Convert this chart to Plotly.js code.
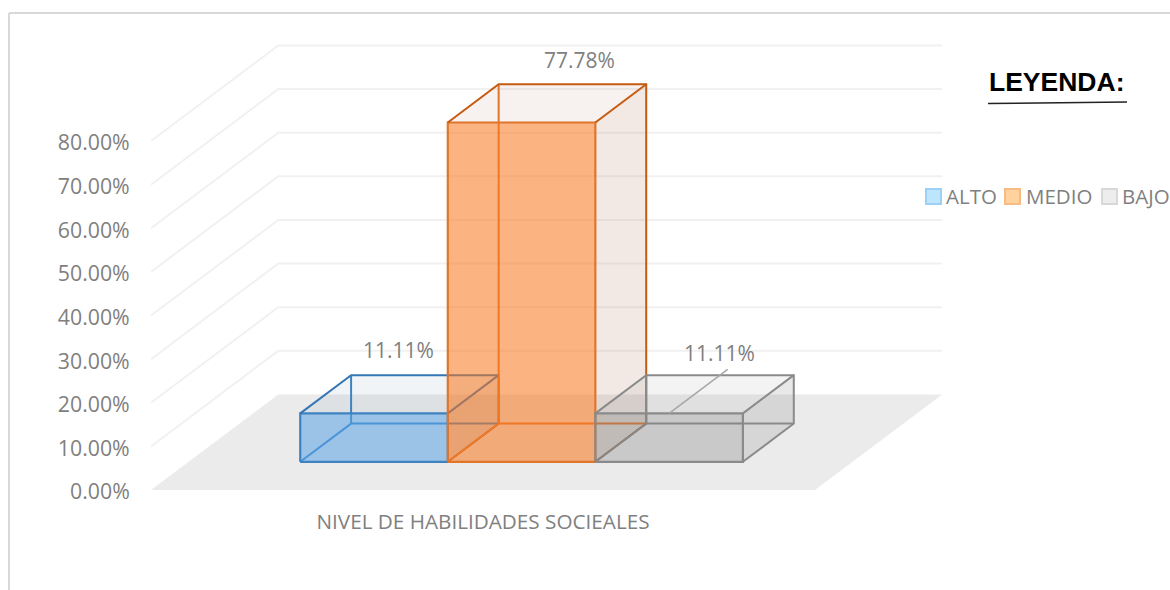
<!DOCTYPE html>
<html>
<head>
<meta charset="utf-8">
<script src="https://cdn.plot.ly/plotly-3.0.1.min.js"></script>
<style>html,body{margin:0;padding:0;background:#fff;overflow:hidden}#chart{width:1170px;height:590px}</style>
</head>
<body>
<div id="chart"></div>
<script>
// ---- data ----
const seriesNames = ['ALTO', 'MEDIO', 'BAJO'];
const seriesValues = [11.11, 77.78, 11.11];
const valueLabels = ['11.11%', '77.78%', '11.11%'];
const categoryLabel = ['NIVEL DE HABILIDADES SOCIEALES'];
const yTicks = [0, 10, 20, 30, 40, 50, 60, 70, 80];

// ---- styles ----
const FONT = 'Open Sans, sans-serif';
const GREY = '#808080';
const faceColors  = ['rgba(88,165,236,0.50)', 'rgba(255,120,28,0.52)', 'rgba(125,125,125,0.23)'];
const hullColors  = ['rgba(60,110,140,0.075)', 'rgba(150,85,45,0.075)', 'rgba(127,127,127,0.09)'];
const sideColors  = ['rgba(60,110,140,0.03)', 'rgba(150,85,45,0.05)', 'rgba(127,127,127,0.09)'];
const wireColors  = ['#3F82C2', '#E0752B', '#8A8A8A'];
const swatchFill  = ['#BDE5FD', '#FFD29E', '#EDEDED'];
const swatchLine  = ['#9CD0F5', '#F9BB84', '#D8D8D8'];

// ---- pseudo-3D scene, in axis units (x: one bar width, y: percent) ----
const FLOOR_W = 4.5, GAP = 0.757, SKEW_X = 0.862, SKEW_Y = 21.9;
const D0 = 0.295, D1 = 0.695;
const PX_X = 147.56, PX_Y = 4.3625, L = 151, B = 490;
const px = (u, d) => u + d * SKEW_X;           // x projected with depth d
const py = (v, d) => v + d * SKEW_Y;           // y projected with depth d

const traces = [];
function poly(xs, ys, fill, name) {
  traces.push({type:'scatter', mode:'lines', x:xs, y:ys, fill:'toself', fillcolor:fill,
    line:{width:0}, hoverinfo:'skip', showlegend:false, name:name});
}
function wire(segs, color, width, name) {
  const xs = [], ys = [];
  segs.forEach(s => { s.forEach(p => { xs.push(p[0]); ys.push(p[1]); }); xs.push(null); ys.push(null); });
  traces.push({type:'scatter', mode:'lines', x:xs, y:ys, line:{color:color, width:width},
    hoverinfo:'skip', showlegend:false, name:name});
}

// floor
poly([px(0,0), px(FLOOR_W,0), px(FLOOR_W,1), px(0,1), px(0,0)],
     [py(0,0), py(0,0), py(0,1), py(0,1), py(0,0)], '#EBEBEB', 'floor');

// gridlines
wire(yTicks.filter(v => v > 0).map(v => [[px(0,0), py(v,0)], [px(0,1), py(v,1)], [px(FLOOR_W,1), py(v,1)]]),
     '#F1F1F1', 2, 'grid');

// bars as transparent boxes
seriesValues.forEach((v, i) => {
  const a = GAP + i, b = a + 1;
  const P = (u, val, d) => [px(u, d), py(val, d)];
  const hull = [P(a,v,D0), P(a,v,D1), P(b,v,D1), P(b,0,D1), P(b,0,D0), P(a,0,D0), P(a,v,D0)];
  poly(hull.map(p => p[0]), hull.map(p => p[1]), hullColors[i], seriesNames[i]);
  const side = [P(b,v,D0), P(b,v,D1), P(b,0,D1), P(b,0,D0), P(b,v,D0)];
  poly(side.map(p => p[0]), side.map(p => p[1]), sideColors[i], seriesNames[i]);
  wire([
    [P(a,0,D1), P(b,0,D1)],
    [P(a,v,D1), P(a,0,D1)],
    [P(a,0,D0), P(a,0,D1)]
  ], wireColors[i], 2, seriesNames[i]);
  const front = [P(a,0,D0), P(b,0,D0), P(b,v,D0), P(a,v,D0), P(a,0,D0)];
  traces.push({type:'scatter', mode:'lines', x:front.map(p=>p[0]), y:front.map(p=>p[1]),
    fill:'toself', fillcolor:faceColors[i], line:{color:wireColors[i], width:2.2},
    name:seriesNames[i], showlegend:false, hovertemplate:seriesNames[i]+': '+valueLabels[i]+'<extra></extra>'});
  wire([
    [P(a,v,D0), P(a,v,D1), P(b,v,D1), P(b,0,D1), P(b,0,D0)],
    [P(b,v,D0), P(b,v,D1)]
  ], i === 1 ? '#C55A11' : (i === 0 ? '#3577B5' : wireColors[i]), 2, seriesNames[i]);
});

// leader line of the last label
const li = seriesValues.length - 1, lc = GAP + li + 0.5;
wire([[[px(lc, D0), py(seriesValues[li], D0)], [px(lc, D1 + 0.06), py(seriesValues[li], D1 + 0.06)]]],
     '#A6A6A6', 1.5, 'leader');

// ---- page-pixel helpers for non-data furniture ----
const plotW = 1170 - L, plotH = B;
const X = p => (p - L) / plotW;
const Y = p => (B - p) / plotH;

const labelShift = [[-1, 44], [32, 43], [25, 41]];
const annotations = seriesValues.map((v, i) => ({
  x: px(GAP + i + 0.5, (D0 + D1) / 2), y: py(v, (D0 + D1) / 2),
  xshift: labelShift[i][0], yshift: labelShift[i][1],
  text: valueLabels[i], showarrow: false, xanchor: 'center', yanchor: 'middle',
  font: {family: FONT, size: 21, color: GREY}
}));

annotations.push({xref:'paper', yref:'paper', x:X(987), y:Y(82), text:'<b>LEYENDA:</b>', showarrow:false,
  xanchor:'left', yanchor:'middle', font:{family:'Liberation Sans, Arial, sans-serif', size:26.5, color:'#000'}});

const legendSwatchX = [926, 1005, 1102];
const legendTextX = [944, 1024, 1119.5];
const shapes = [
  {type:'line', xref:'paper', yref:'paper', x0:X(9), x1:X(9), y0:Y(590), y1:Y(13), line:{color:'#D9D9D9', width:2}},
  {type:'line', xref:'paper', yref:'paper', x0:X(9), x1:X(1170), y0:Y(13), y1:Y(13), line:{color:'#D9D9D9', width:2}},
  {type:'line', xref:'paper', yref:'paper', x0:X(988), x1:X(1127), y0:Y(103.5), y1:Y(102), line:{color:'#222', width:1.5}}
];
seriesNames.forEach((n, i) => {
  shapes.push({type:'rect', xref:'paper', yref:'paper', x0:X(legendSwatchX[i]), x1:X(legendSwatchX[i]+15),
    y0:Y(189), y1:Y(204), fillcolor:swatchFill[i], line:{color:swatchLine[i], width:2}});
  annotations.push({xref:'paper', yref:'paper', x:X(legendTextX[i]), y:Y(195.5), text:n, showarrow:false,
    xanchor:'left', yanchor:'middle', font:{family:FONT, size:20.5, color:GREY}});
});

const layout = {
  width: 1170, height: 590,
  margin: {l: L, r: 0, t: 0, b: 590 - B, pad: 0},
  paper_bgcolor: '#fff', plot_bgcolor: 'rgba(0,0,0,0)',
  showlegend: false,
  xaxis: {range: [0, plotW / PX_X], tickmode:'array', tickvals:[FLOOR_W / 2], ticktext: categoryLabel,
    showgrid:false, zeroline:false, showline:false, ticks:'outside', ticklen:13, tickcolor:'rgba(0,0,0,0)',
    tickfont:{family:FONT, size:20.7, color:GREY}, fixedrange:true},
  yaxis: {range: [0, plotH / PX_Y], tickmode:'array', tickvals:yTicks,
    ticktext: yTicks.map(v => v.toFixed(2) + '%'),
    showgrid:false, zeroline:false, showline:false, ticks:'outside', ticklen:16, tickcolor:'rgba(0,0,0,0)',
    ticklabelshift:2,
    tickfont:{family:FONT, size:21.3, color:GREY}, fixedrange:true},
  shapes: shapes,
  annotations: annotations
};
Plotly.newPlot('chart', traces, layout, {displayModeBar:false, responsive:false});
</script>
</body>
</html>
